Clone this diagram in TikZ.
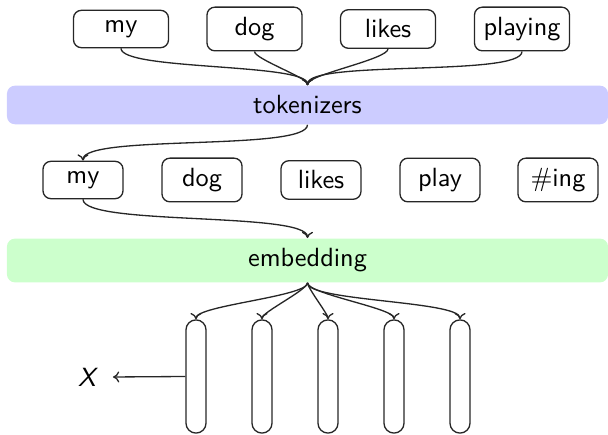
\documentclass[tikz,border=0pt]{standalone}
\usetikzlibrary{arrows.meta}
\begin{document}
\begin{tikzpicture}[x=0.38pt,y=-0.38pt,
  font=\sffamily,
  word/.style={draw=black!85, line width=0.5pt, rounded corners=3pt,
    inner xsep=3.33pt, inner ysep=3.8pt, minimum width=36.1pt},
  piece/.style={word, minimum width=30.4pt},
  band/.style={rounded corners=3pt, inner ysep=3.8pt, minimum width=228.4pt},
  vec/.style={draw=black!85, line width=0.5pt, rounded corners=3.75pt,
    inner sep=0pt, minimum width=7.6pt, minimum height=43pt},
  arr/.style={-{To[length=2.4pt,width=4.2pt]}, draw=black!85, line width=0.5pt},
  link/.style={arr, out=-90, in=90, looseness=0.3}]
\useasboundingbox (0,0) rectangle (608,435);

% input words
\node[word] (w1) at (121,29) {my};
\node[word] (w2) at (254.5,29) {dog};
\node[word] (w3) at (388,29) {likes};
\node[word] (w4) at (522,29) {playing};

% tokenizer stage
\node[band, fill=blue!20] (tok) at (307.5,105) {tokenizers};

% sub-word tokens
\node[piece] (t1) at (83,180) {my};
\node[piece] (t2) at (202,180) {dog};
\node[piece] (t3) at (321,180) {likes};
\node[piece] (t4) at (440,180) {play};
\node[piece] (t5) at (558,180) {$\#$ing};

% embedding stage
\node[band, fill=green!20] (emb) at (307.5,260.5) {embedding};

% embedding vectors
\node[vec] (v1) at (196,376.5) {};
\node[vec] (v2) at (262,376.5) {};
\node[vec] (v3) at (328,376.5) {};
\node[vec] (v4) at (394,376.5) {};
\node[vec] (v5) at (460,376.5) {};

\node[inner xsep=5.5pt, inner ysep=0pt] (X) at (88,377) {\textit{X}};

% connectors
\foreach \w in {w1,w2,w3,w4}
  \draw[link] (\w.south) to (tok.north);
\draw[link] (tok.south) to (t1.north);
\draw[link] (t1.south) to (emb.north);
\foreach \v in {v1,v2,v3,v4,v5}
  \draw[link] (emb.south) to (\v.north);
\draw[arr] (v1.west) -- (X.east);
\end{tikzpicture}
\end{document}
